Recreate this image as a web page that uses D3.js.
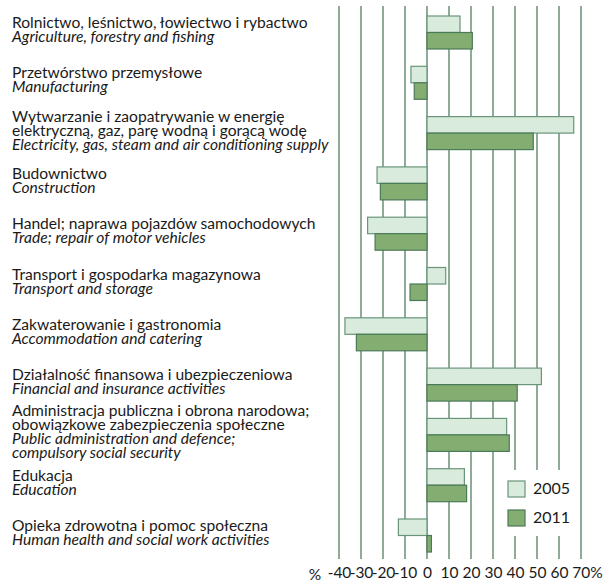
<!DOCTYPE html>
<html>
<head>
<meta charset="utf-8">
<script src="https://cdn.jsdelivr.net/npm/d3@7"></script>
<style>
  body { margin: 0; background: #fff; }
  svg { font-family: Lato, "Open Sans", sans-serif; }
</style>
</head>
<body>
<svg id="chart"></svg>
<script>
// data
const plLabels = [
  ["Rolnictwo, leśnictwo, łowiectwo i rybactwo"],
  ["Przetwórstwo przemysłowe"],
  ["Wytwarzanie i zaopatrywanie w energię", "elektryczną, gaz, parę wodną i gorącą wodę"],
  ["Budownictwo"],
  ["Handel; naprawa pojazdów samochodowych"],
  ["Transport i gospodarka magazynowa"],
  ["Zakwaterowanie i gastronomia"],
  ["Działalność finansowa i ubezpieczeniowa"],
  ["Administracja publiczna i obrona narodowa;", "obowiązkowe zabezpieczenia społeczne"],
  ["Edukacja"],
  ["Opieka zdrowotna i pomoc społeczna"]
];
const enLabels = [
  ["Agriculture, forestry and fishing"],
  ["Manufacturing"],
  ["Electricity, gas, steam and air conditioning supply"],
  ["Construction"],
  ["Trade; repair of motor vehicles"],
  ["Transport and storage"],
  ["Accommodation and catering"],
  ["Financial and insurance activities"],
  ["Public administration and defence;", "compulsory social security"],
  ["Education"],
  ["Human health and social work activities"]
];
const years = ["2005", "2011"];
const values2005 = [15, -7.3, 66.7, -22.7, -27, 8.5, -37.3, 52, 36.2, 17, -13];
const values2011 = [20.6, -5.8, 48.3, -21.2, -23.6, -7.7, -32.1, 41, 37.4, 18, 2];
const tickValues = [-40, -30, -20, -10, 0, 10, 20, 30, 40, 50, 60, 70];

const w = 605, h = 583;
const colors = { "2005": "#d8ebdc", "2011": "#83ad71" };
const strokes = { "2005": "#6a957a", "2011": "#4b7a58" };

const svg = d3.select("#chart").attr("width", w).attr("height", h);

const cats = plLabels.map((d, i) => i);
const x = d3.scaleLinear().domain([-40, 70]).range([339, 581]);
const y = d3.scaleBand().domain(cats).range([7.35, 560.65]).paddingInner(0.344).paddingOuter(0.172);
const yInner = d3.scaleBand().domain(years).range([0, y.bandwidth()]);

// gridlines
svg.append("g")
  .selectAll("line")
  .data(tickValues)
  .join("line")
  .attr("x1", d => x(d)).attr("x2", d => x(d))
  .attr("y1", 6).attr("y2", 559)
  .attr("stroke", "#527f62")
  .attr("stroke-width", 1.3);

// bars
const series = years.map(yr => ({ year: yr, values: yr === "2005" ? values2005 : values2011 }));
svg.append("g")
  .selectAll("g")
  .data(series)
  .join("g")
  .attr("fill", d => colors[d.year])
  .attr("stroke", d => strokes[d.year])
  .selectAll("rect")
  .data(d => d.values.map((v, i) => ({ year: d.year, v: v, i: i })))
  .join("rect")
  .attr("x", d => x(Math.min(0, d.v)))
  .attr("width", d => Math.abs(x(d.v) - x(0)))
  .attr("y", d => y(d.i) + yInner(d.year))
  .attr("height", yInner.bandwidth())
  .attr("stroke-width", 1.2);

// category labels
const lineH = 14;
const labels = svg.append("g").attr("font-size", 15.6).attr("fill", "#1a1a1a");
cats.forEach(i => {
  const lines = plLabels[i].map(t => ({ t: t, it: false }))
    .concat(enLabels[i].map(t => ({ t: t, it: true })));
  const cy = y(i) + y.bandwidth() / 2 - 2.5;
  const first = cy - (lines.length - 1) * lineH / 2 + 5;
  labels.append("text")
    .attr("x", 12)
    .selectAll("tspan")
    .data(lines)
    .join("tspan")
    .attr("x", 12)
    .attr("y", (d, k) => first + k * lineH)
    .attr("font-style", d => d.it ? "italic" : "normal")
    .text(d => d.t);
});

// x axis (plain hyphen for negatives, like the original)
const xAxis = d3.axisBottom(x).tickValues(tickValues).tickSize(0).tickPadding(0)
  .tickFormat(d => String(d));
const ax = svg.append("g")
  .attr("transform", "translate(0,567)")
  .call(xAxis);
ax.select(".domain").remove();
ax.selectAll("text")
  .attr("font-family", "Lato, 'Open Sans', sans-serif")
  .attr("font-size", 15.5)
  .attr("fill", "#1a1a1a");
const lastTick = ax.selectAll(".tick text").filter(d => d === 70);
lastTick.append("tspan").text("%");
lastTick.attr("dx", 6);

svg.append("text")
  .attr("x", 315).attr("y", 580)
  .attr("text-anchor", "middle")
  .attr("font-size", 15.5)
  .attr("fill", "#1a1a1a")
  .text("%");

// legend
const lg = svg.append("g");
lg.append("rect").attr("x", 504).attr("y", 470).attr("width", 72).attr("height", 66).attr("fill", "#fff");
years.forEach((yr, k) => {
  lg.append("rect")
    .attr("x", 508).attr("y", 481 + k * 29)
    .attr("width", 17).attr("height", 16)
    .attr("fill", colors[yr]).attr("stroke", strokes[yr]).attr("stroke-width", 1.2);
  lg.append("text")
    .attr("x", 533).attr("y", 494 + k * 29)
    .attr("font-size", 16).attr("fill", "#1a1a1a")
    .text(yr);
});
</script>
</body>
</html>
